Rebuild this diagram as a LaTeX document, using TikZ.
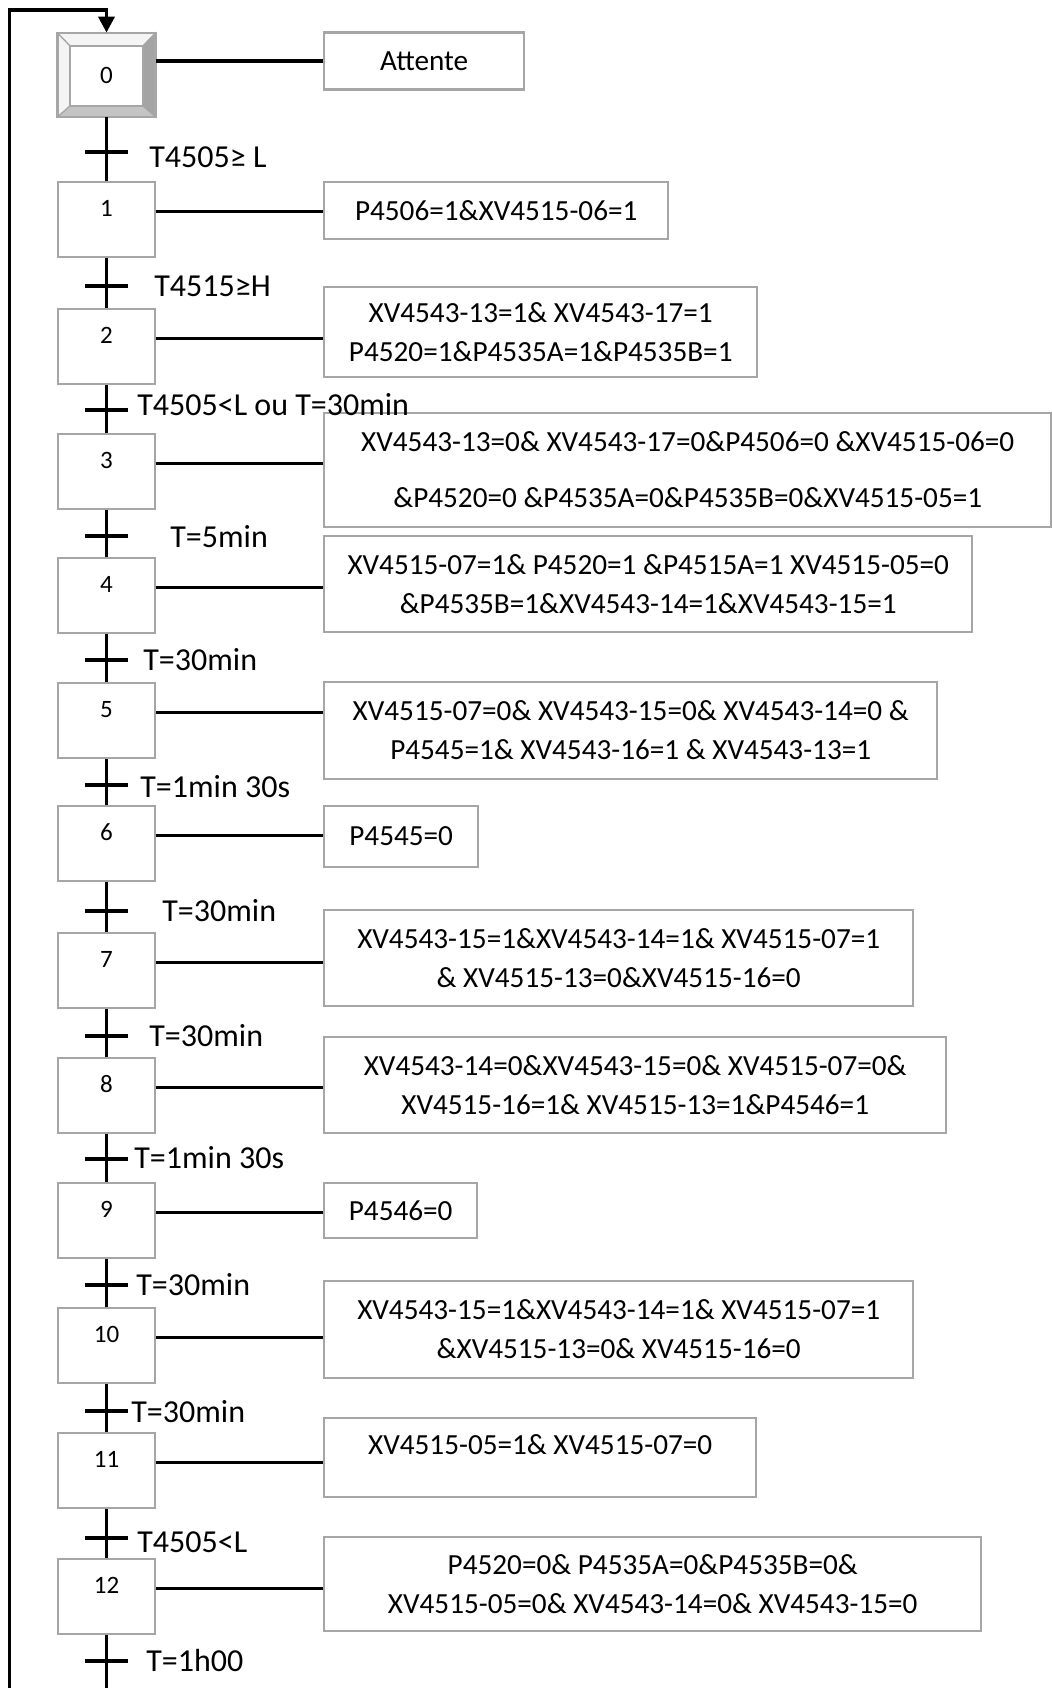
\documentclass[tikz,border=0pt]{standalone}
\usepackage{fontspec}
\setmainfont{Carlito}
\usetikzlibrary{arrows.meta}
\definecolor{cadre}{HTML}{A6A6A6}
\definecolor{biseauclair}{HTML}{F4F4F4}
\definecolor{biseaumoyen}{HTML}{C4C4C4}
\definecolor{biseaufonce}{HTML}{A4A4A4}

\begin{document}
\begin{tikzpicture}[x=0.5pt, y=-0.5pt,
	etape/.style={draw=cadre, line width=1.2pt, anchor=north, minimum width=48.5pt,
		inner sep=0pt, text height=17pt, text depth=20.5pt, font=\fontsize{12.5}{15}\selectfont},
	action/.style={draw=cadre, line width=1.2pt, anchor=west, align=center, inner sep=0pt,
		font=\fontsize{14.6}{19.4}\selectfont},
	recept/.style={fill=black, minimum width=21.5pt, minimum height=2.2pt, inner sep=0pt},
	cond/.style={anchor=west, inner sep=0pt, font=\fontsize{16}{19}\selectfont},
	lien/.style={line width=1.8pt}]
	\useasboundingbox (0,0) rectangle (1052,1688);

	\coordinate (haut) at (106.5,10);
	\coordinate (hautg) at (9.5,10);
	\coordinate (basg) at (9.5,1700);
	\coordinate (bas) at (106.5,1700);

	% etape initiale (cadre en relief)
	\filldraw [draw=cadre, line width=0.6pt, fill=biseauclair] (57.5,33) -- (155.5,33) -- (143,46) -- (70,46) -- cycle;
	\filldraw [draw=cadre, line width=0.6pt, fill=biseauclair] (57.5,33) -- (70,46) -- (70,106) -- (57.5,117) -- cycle;
	\filldraw [draw=cadre, line width=0.6pt, fill=biseaufonce] (155.5,33) -- (155.5,117) -- (143,106) -- (143,46) -- cycle;
	\filldraw [draw=cadre, line width=0.6pt, fill=biseaumoyen] (57.5,117) -- (155.5,117) -- (143,106) -- (70,106) -- cycle;
	\draw [cadre, line width=1.2pt] (57.5,33) rectangle (155.5,117);
	\draw [cadre, line width=0.8pt, fill=white] (70,46) rectangle (143,106);
	\node [minimum width=49pt, minimum height=42pt, inner sep=0pt,
		font=\fontsize{12.5}{15}\selectfont] (s0) at (106.5,75) {0};

	% etapes
	\node[etape] (s1) at (106.5,181) {1};
	\node[etape] (s2) at (106.5,308) {2};
	\node[etape] (s3) at (106.5,433) {3};
	\node[etape] (s4) at (106.5,557) {4};
	\node[etape] (s5) at (106.5,682) {5};
	\node[etape] (s6) at (106.5,805) {6};
	\node[etape] (s7) at (106.5,932) {7};
	\node[etape] (s8) at (106.5,1057) {8};
	\node[etape] (s9) at (106.5,1182) {9};
	\node[etape] (s10) at (106.5,1307) {10};
	\node[etape] (s11) at (106.5,1432) {11};
	\node[etape] (s12) at (106.5,1558) {12};

	% actions
	\node[action, minimum width=100pt, minimum height=28.5pt] (a0) at (323,61) {Attente};
	\node[action, minimum width=172pt, minimum height=28.5pt] (a1) at (323,210.5) {P4506=1\&XV4515-06=1};
	\node[action, minimum width=216.5pt, minimum height=45pt] (a2) at (323,332)
		{XV4543-13=1\& XV4543-17=1\\P4520=1\&P4535A=1\&P4535B=1};
	\node[action, minimum width=363.5pt, minimum height=57pt, font=\fontsize{14.6}{28}\selectfont] (a3) at (323,470)
		{XV4543-13=0\& XV4543-17=0\&P4506=0 \&XV4515-06=0\\\&P4520=0 \&P4535A=0\&P4535B=0\&XV4515-05=1};
	\node[action, minimum width=324pt, minimum height=48pt] (a4) at (323,584)
		{XV4515-07=1\& P4520=1 \&P4515A=1 XV4515-05=0\\\&P4535B=1\&XV4543-14=1\&XV4543-15=1};
	\node[action, minimum width=306.5pt, minimum height=48.5pt] (a5) at (323,730.5)
		{XV4515-07=0\& XV4543-15=0\& XV4543-14=0 \&\\P4545=1\& XV4543-16=1 \& XV4543-13=1};
	\node[action, minimum width=77pt, minimum height=30.5pt] (a6) at (323,836.5) {P4545=0};
	\node[action, minimum width=294.5pt, minimum height=48pt] (a7) at (323,958)
		{XV4543-15=1\&XV4543-14=1\& XV4515-07=1\\\& XV4515-13=0\&XV4515-16=0};
	\node[action, minimum width=311pt, minimum height=48pt] (a8) at (323,1085)
		{XV4543-14=0\&XV4543-15=0\& XV4515-07=0\&\\XV4515-16=1\& XV4515-13=1\&P4546=1};
	\node[action, minimum width=76.5pt, minimum height=27.5pt] (a9) at (323,1210.5) {P4546=0};
	\node[action, minimum width=294.5pt, minimum height=48.5pt] (a10) at (323,1329.5)
		{XV4543-15=1\&XV4543-14=1\& XV4515-07=1\\\&XV4515-13=0\& XV4515-16=0};
	\node[action, minimum width=216pt, minimum height=39.5pt, text depth=12.5pt] (a11) at (323,1457.5)
		{XV4515-05=1\& XV4515-07=0};
	\node[action, minimum width=328.5pt, minimum height=47pt] (a12) at (323,1584)
		{P4520=0\& P4535A=0\&P4535B=0\&\\XV4515-05=0\& XV4543-14=0\& XV4543-15=0};

	% liaisons etapes
	\foreach \i/\j in {0/1,1/2,2/3,3/4,4/5,5/6,6/7,7/8,8/9,9/10,10/11,11/12}
		\draw[lien] (s\i) -- (s\j);
	\draw[lien, -{Triangle[length=8pt,width=8pt]}] (s12) -- (bas) -- (basg) -- (hautg) -- (haut) -- (s0);

	% liaisons actions
	\draw[lien] (a0.west -| s0.east) -- (a0.west);
	\foreach \i in {1,...,12}
		\draw[lien] (s\i.mid east) -- (s\i.mid east -| a\i.west);

	% receptivites
	\foreach \y [count=\i] in {152,286,410,536,660,785,911,1036,1159,1285,1411,1538,1661}
		\node[recept] (t\i) at (106.5,\y) {};

	\node[cond] (c1) at (149,157) {T4505≥ L};
	\node[cond] (c2) at (154,286) {T4515≥H};
	\node[cond] (c3) at (137,405) {T4505<L ou T=30min};
	\node[cond] (c4) at (170,537) {T=5min};
	\node[cond] (c5) at (143,660) {T=30min};
	\node[cond] (c6) at (140,787) {T=1min 30s};
	\node[cond] (c7) at (162,911) {T=30min};
	\node[cond] (c8) at (149,1036) {T=30min};
	\node[cond] (c9) at (134,1158) {T=1min 30s};
	\node[cond] (c10) at (136,1285) {T=30min};
	\node[cond] (c11) at (131,1412) {T=30min};
	\node[cond] (c12) at (137,1542) {T4505<L};
	\node[cond] (c13) at (146,1660) {T=1h00};
\end{tikzpicture}
\end{document}
